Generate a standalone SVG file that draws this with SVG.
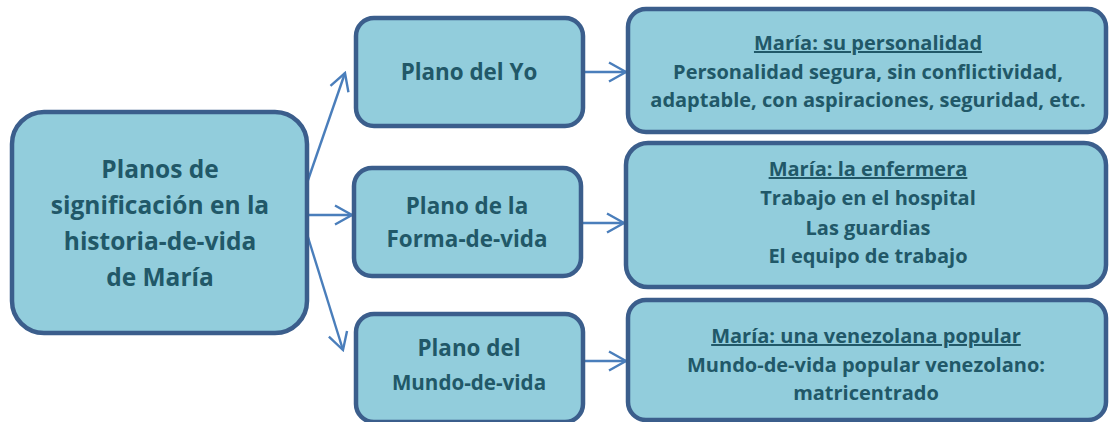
<svg xmlns="http://www.w3.org/2000/svg" width="1109" height="422" viewBox="0 0 1109 422">
<defs>
<style>
.box{fill:#92cddc;stroke:#3b5e8c;stroke-width:4.5}
.t{font-family:"Open Sans","Noto Sans","Liberation Sans",sans-serif;font-weight:bold;fill:#215868;text-anchor:middle}
.r{font-size:20px}
.c{stroke:#4a7ebb;stroke-width:2.4;fill:none}
.u{text-decoration:underline}
</style>
<marker id="ah" viewBox="0 0 20 22" refX="18" refY="11" markerWidth="20" markerHeight="22" markerUnits="userSpaceOnUse" orient="auto">
<path d="M1,1.5 L18,11 L1,20.5" fill="none" stroke="#4a7ebb" stroke-width="2.4"/>
</marker>
</defs>
<g id="connectors">
<line class="c" x1="307" y1="183" x2="345" y2="73" marker-end="url(#ah)"/>
<line class="c" x1="307" y1="215" x2="352" y2="215" marker-end="url(#ah)"/>
<line class="c" x1="307" y1="234" x2="343" y2="350" marker-end="url(#ah)"/>
<line class="c" x1="583" y1="72" x2="626" y2="72" marker-end="url(#ah)"/>
<line class="c" x1="582" y1="223" x2="624" y2="223" marker-end="url(#ah)"/>
<line class="c" x1="583" y1="361" x2="626" y2="361" marker-end="url(#ah)"/>
</g>
<g id="main">
<rect class="box" x="12" y="112" width="295" height="221" rx="32"/>
<text class="t" font-size="24.5" x="160" y="178">Planos de</text>
<text class="t" font-size="24.5" x="160" y="214">significación en la</text>
<text class="t" font-size="24.5" x="160" y="250">historia-de-vida</text>
<text class="t" font-size="24.5" x="160" y="286">de María</text>
</g>
<g id="plano-yo">
<rect class="box" x="356" y="18" width="227" height="108" rx="18"/>
<text class="t" font-size="22.4" x="469" y="80">Plano del Yo</text>
</g>
<g id="plano-forma">
<rect class="box" x="354" y="168" width="227" height="108" rx="18"/>
<text class="t" font-size="22.4" x="467" y="214">Plano de la</text>
<text class="t" font-size="22.4" x="467" y="247">Forma-de-vida</text>
</g>
<g id="plano-mundo">
<rect class="box" x="356" y="314" width="227" height="108" rx="18"/>
<text class="t" font-size="22.4" x="469" y="356">Plano del</text>
<text class="t" font-size="20.6" x="469" y="390">Mundo-de-vida</text>
</g>
<g id="maria-personalidad">
<rect class="box" x="628" y="9" width="478" height="123" rx="18"/>
<text class="t r" x="868" y="50"><tspan class="u">María: su personalidad</tspan></text>
<text class="t r" x="868" y="79">Personalidad segura, sin conflictividad,</text>
<text class="t r" x="868" y="107">adaptable, con aspiraciones, seguridad, etc.</text>
</g>
<g id="maria-enfermera">
<rect class="box" x="626" y="143" width="480" height="144" rx="22"/>
<text class="t r" x="868" y="176"><tspan class="u">María: la enfermera</tspan></text>
<text class="t r" x="868" y="205">Trabajo en el hospital</text>
<text class="t r" x="868" y="235">Las guardias</text>
<text class="t r" x="868" y="263">El equipo de trabajo</text>
</g>
<g id="maria-venezolana">
<rect class="box" x="628" y="300" width="478" height="120" rx="18"/>
<text class="t r" x="866" y="343"><tspan class="u">María: una venezolana popular</tspan></text>
<text class="t r" x="866" y="372">Mundo-de-vida popular venezolano:</text>
<text class="t r" x="866" y="400">matricentrado</text>
</g>
</svg>
